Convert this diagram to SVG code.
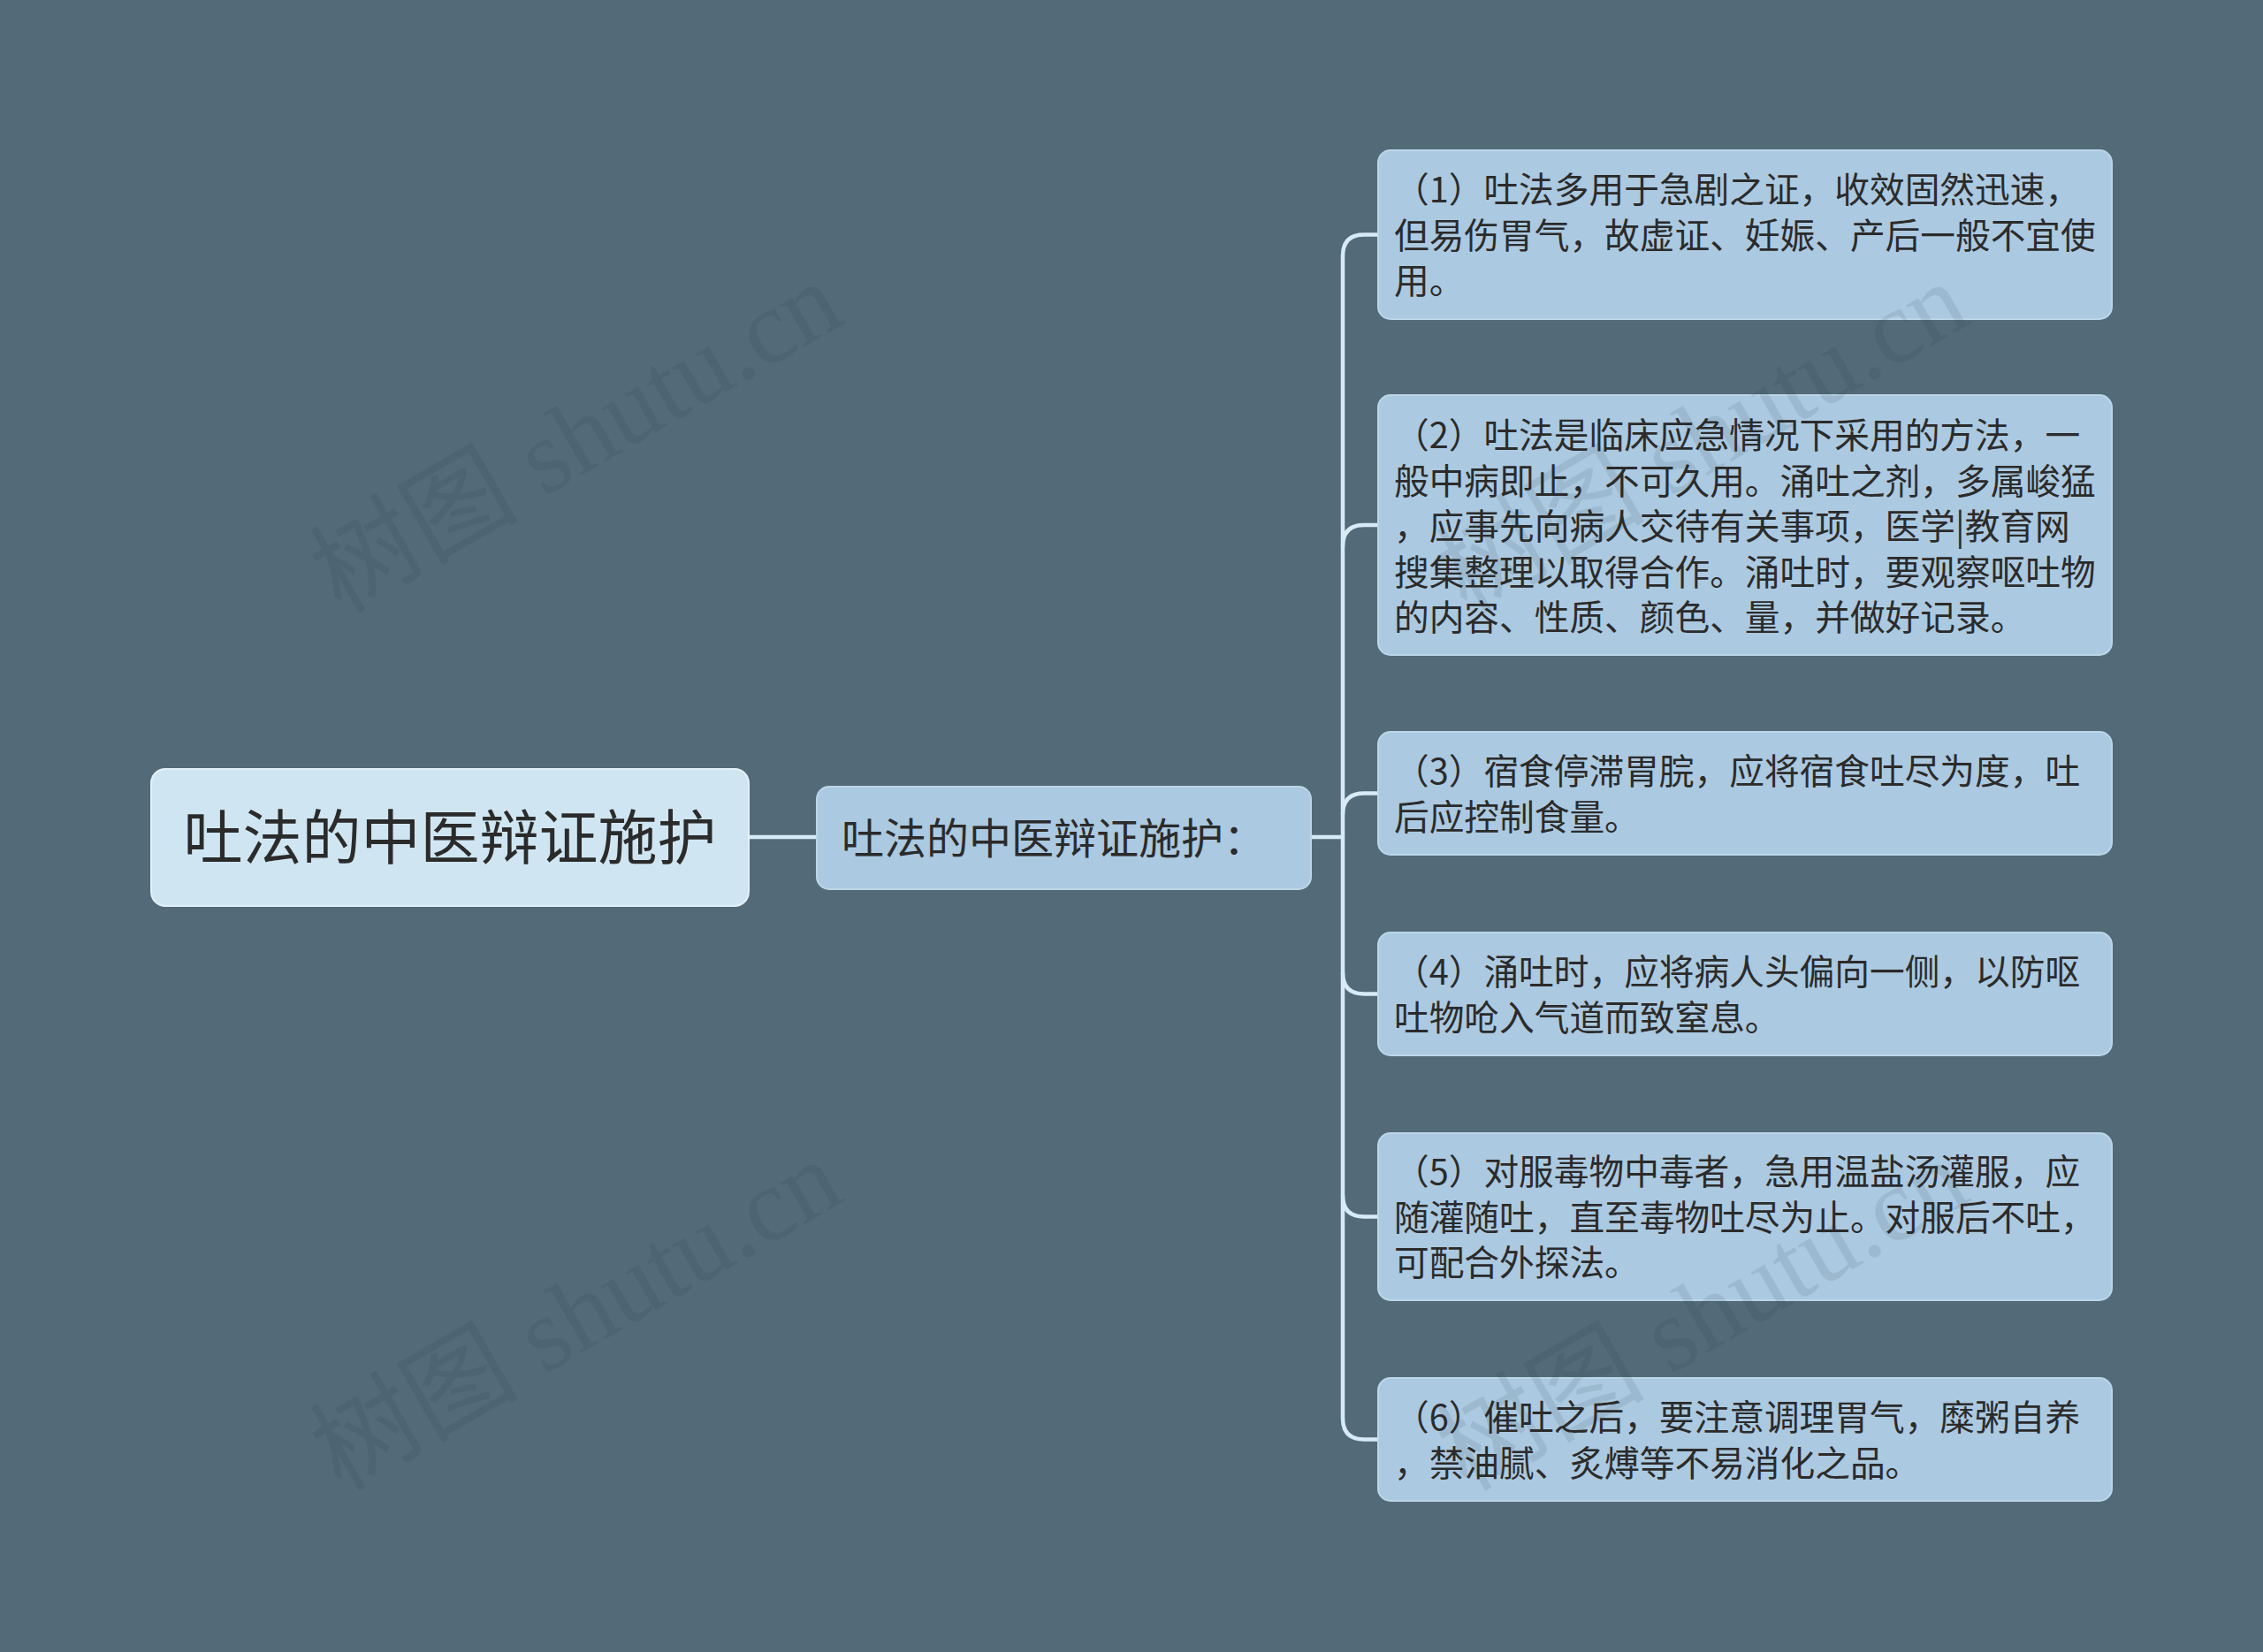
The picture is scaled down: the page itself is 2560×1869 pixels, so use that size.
<svg xmlns="http://www.w3.org/2000/svg" width="2560" height="1869" viewBox="0 0 2560 1869">
<style>
.bg{fill:#536a79}
.root{fill:#cfe6f2;stroke:#e2f1f8;stroke-width:2}
.mid{fill:#abc9e0;stroke:#bcd6e8;stroke-width:2}
.leaf{fill:#abc9e0;stroke:#bcd6e8;stroke-width:2}
.t{font-family:"Noto Sans CJK SC","Noto Sans",sans-serif;fill:#2b2b2b}
.tr{font-size:67px}
.tm{font-size:48px}
.tl{font-size:39.7px}
.conn{fill:none;stroke:#d6ebf6;stroke-width:4.5;stroke-linecap:round}
.wm{font-family:"Liberation Serif","Noto Sans CJK SC",serif;font-size:118px;fill:#1e2d38;fill-opacity:0.1}
</style>
<rect class="bg" x="0" y="0" width="2560" height="1869"/>
<g id="connectors">
<path class="conn" d="M847 947 H924"/>
<path class="conn" d="M1483 947 H1519"/>
<path class="conn" d="M1519 289.5 V1604.5"/>
<path class="conn" d="M1519 289.5 Q1519 265.5 1543 265.5 H1559"/>
<path class="conn" d="M1519 618 Q1519 594 1543 594 H1559"/>
<path class="conn" d="M1519 921.5 Q1519 897.5 1543 897.5 H1559"/>
<path class="conn" d="M1519 1100.5 Q1519 1124.5 1543 1124.5 H1559"/>
<path class="conn" d="M1519 1352.5 Q1519 1376.5 1543 1376.5 H1559"/>
<path class="conn" d="M1519 1604.5 Q1519 1628.5 1543 1628.5 H1559"/>
</g>
<g id="root">
<rect class="root" x="171" y="870" width="676" height="155" rx="16"/>
<text class="t tr" x="509" y="972" text-anchor="middle">吐法的中医辩证施护</text>
</g>
<g id="middle">
<rect class="mid" x="924" y="890" width="559" height="116" rx="14"/>
<text class="t tm" x="952" y="966">吐法的中医辩证施护：</text>
</g>
<g id="child1">
<rect class="leaf" x="1559" y="170" width="830" height="191" rx="14"/>
<text class="t tl" x="1577" y="229">（1）吐法多用于急剧之证，收效固然迅速，</text>
<text class="t tl" x="1577" y="280.5">但易伤胃气，故虚证、妊娠、产后一般不宜使</text>
<text class="t tl" x="1577" y="332">用。</text>
</g>
<g id="child2">
<rect class="leaf" x="1559" y="447" width="830" height="294" rx="14"/>
<text class="t tl" x="1577" y="507">（2）吐法是临床应急情况下采用的方法，一</text>
<text class="t tl" x="1577" y="558.5">般中病即止，不可久用。涌吐之剂，多属峻猛</text>
<text class="t tl" x="1577" y="610">，应事先向病人交待有关事项，医学|教育网</text>
<text class="t tl" x="1577" y="661.5">搜集整理以取得合作。涌吐时，要观察呕吐物</text>
<text class="t tl" x="1577" y="713">的内容、性质、颜色、量，并做好记录。</text>
</g>
<g id="child3">
<rect class="leaf" x="1559" y="828" width="830" height="139" rx="14"/>
<text class="t tl" x="1577" y="887">（3）宿食停滞胃脘，应将宿食吐尽为度，吐</text>
<text class="t tl" x="1577" y="938.5">后应控制食量。</text>
</g>
<g id="child4">
<rect class="leaf" x="1559" y="1055" width="830" height="139" rx="14"/>
<text class="t tl" x="1577" y="1114">（4）涌吐时，应将病人头偏向一侧，以防呕</text>
<text class="t tl" x="1577" y="1165.5">吐物呛入气道而致窒息。</text>
</g>
<g id="child5">
<rect class="leaf" x="1559" y="1282" width="830" height="189" rx="14"/>
<text class="t tl" x="1577" y="1340">（5）对服毒物中毒者，急用温盐汤灌服，应</text>
<text class="t tl" x="1577" y="1391.5">随灌随吐，直至毒物吐尽为止。对服后不吐，</text>
<text class="t tl" x="1577" y="1443">可配合外探法。</text>
</g>
<g id="child6">
<rect class="leaf" x="1559" y="1559" width="830" height="139" rx="14"/>
<text class="t tl" x="1577" y="1618">（6）催吐之后，要注意调理胃气，糜粥自养</text>
<text class="t tl" x="1577" y="1669.5">，禁油腻、炙煿等不易消化之品。</text>
</g>
<g id="watermarks">
<text class="wm" x="385" y="695" transform="rotate(-30 385 695)">树图 shutu.cn</text>
<text class="wm" x="385" y="1688" transform="rotate(-30 385 1688)">树图 shutu.cn</text>
<text class="wm" x="1659" y="695" transform="rotate(-30 1659 695)">树图 shutu.cn</text>
<text class="wm" x="1659" y="1688" transform="rotate(-30 1659 1688)">树图 shutu.cn</text>
</g>
</svg>
